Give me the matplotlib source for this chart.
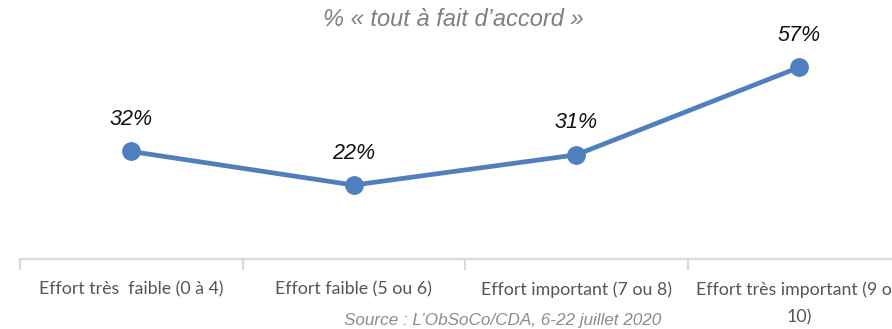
import matplotlib.pyplot as plt
from matplotlib.ticker import FixedLocator, NullFormatter

categories = [
    "Effort très  faible (0 à 4)",
    "Effort faible (5 ou 6)",
    "Effort important (7 ou 8)",
    "Effort très important (9 ou\n10)",
]
values = [32, 22, 31, 57]
value_labels = ["32%", "22%", "31%", "57%"]

line_color = "#4F7FBC"
axis_color = "#D9D9D9"

fig = plt.figure(figsize=(8.92, 3.29), dpi=100)
ax = fig.add_axes([20 / 892, 70 / 329, 890 / 892, 235 / 329])

x = list(range(len(categories)))
ax.plot(x, values, color=line_color, lw=3.4, marker="o", ms=12.5,
        solid_capstyle="round", zorder=3)

for xi, v, lab in zip(x, values, value_labels):
    ax.annotate(lab, (xi, v), xytext=(0, 23), textcoords="offset points",
                ha="center", va="center", fontsize=15.5, style="italic",
                color="#111111", family="Liberation Sans")

ax.set_xlim(-0.5, 3.5)
ax.set_ylim(0, 235 / 3.36)

for s in ["top", "right", "left"]:
    ax.spines[s].set_visible(False)
ax.spines["bottom"].set_color(axis_color)
ax.spines["bottom"].set_linewidth(1.6)
ax.set_yticks([])

ax.set_xticks(x)
ax.set_xticklabels(categories, fontsize=12.8, color="#555555", family="Lato",
                   va="top", linespacing=1.85)
ax.tick_params(axis="x", which="major", length=0, pad=16)
ax.xaxis.set_minor_locator(FixedLocator([-0.5, 0.5, 1.5, 2.5, 3.5]))
ax.xaxis.set_minor_formatter(NullFormatter())
ax.tick_params(axis="x", which="minor", length=8, width=1.6, color=axis_color,
               direction="out")

fig.text(453 / 892, 1 - 20 / 329, "% « tout à fait d’accord »",
         ha="center", va="center", fontsize=17, style="italic",
         color="#7F7F7F", family="Liberation Sans")
fig.text(503 / 892, 1 - 320 / 329, "Source : L’ObSoCo/CDA, 6-22 juillet 2020",
         ha="center", va="center", fontsize=12.3, style="italic",
         color="#8C8C8C", family="Liberation Sans")

fig.savefig("out.png", dpi=100)
